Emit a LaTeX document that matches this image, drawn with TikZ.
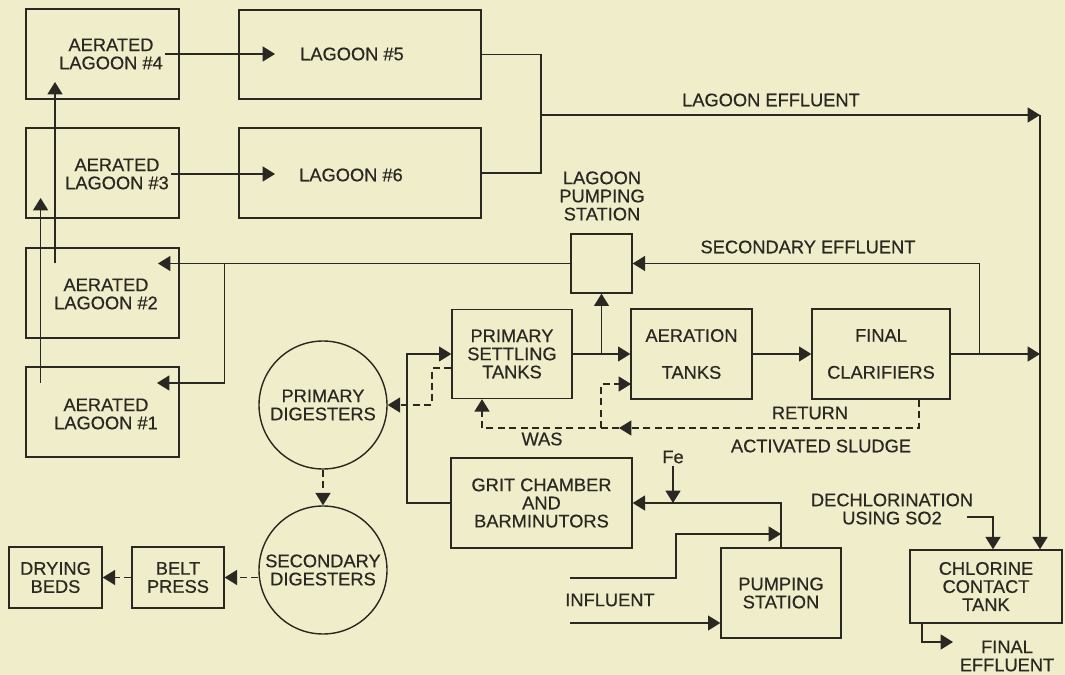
\documentclass[tikz,border=0pt]{standalone}
\usepackage{fontspec}
\setmainfont{Liberation Sans}[FakeBold=0.5]
\usetikzlibrary{arrows.meta,calc}

\definecolor{carta}{RGB}{240,237,202}
\definecolor{inchiostro}{RGB}{42,40,34}

\begin{document}
\begin{tikzpicture}[x=0.02cm, y=-0.02cm,
    >={Triangle[length=7pt,width=8.5pt]},
    line width=0.8pt, color=inchiostro,
    font=\fontsize{10.4}{10.3}\selectfont,
    box/.style 2 args={draw, rectangle, inner sep=0pt, minimum width=#1*\pxu, minimum height=#2*\pxu, align=center},
    vasca/.style={draw, circle, inner sep=0pt, minimum size=128*\pxu, align=center},
    testo/.style={align=center, inner sep=1pt},
    fango/.style={dash pattern=on 4pt off 2.5pt}]

        % Unita' di misura (1 px del disegno)
        \def\pxu{0.02cm}

        % Sfondo e cornice
        \fill[carta] (0,0) rectangle (1065,675);
        \useasboundingbox (0,0) rectangle (1065,675);

        % ----------------------------------------------------
        % 1. Lagune aerate e lagune 5, 6
        % ----------------------------------------------------
        \node[box={153}{90}] (al4) at (102.5,54) {};
        \node[box={153}{90}] (al3) at (102.5,173) {};
        \node[box={153}{90}] (al2) at (102.5,293) {};
        \node[box={153}{90}] (al1) at (102.5,412) {};
        \node[testo] (al4t) at (111,54) {AERATED\\LAGOON \#4};
        \node[testo] (al3t) at (117,174) {AERATED\\LAGOON \#3};
        \node[testo] (al2t) at (106,294) {AERATED\\LAGOON \#2};
        \node[testo] (al1t) at (106,414) {AERATED\\LAGOON \#1};

        \node[box={242}{89}] (lag5) at (360,54.5) {};
        \node[box={242}{90}] (lag6) at (360,173) {};
        \node[testo] (lag5t) at (352,54) {LAGOON \#5};
        \node[testo] (lag6t) at (351,175) {LAGOON \#6};

        \coordinate (l5in) at (275,54);
        \coordinate (l6in) at (275,174);
        \draw[->] (al4t.east) -- (al4t.east -| l5in);
        \draw[->] (al3t.east) -- (al3t.east -| l6in);

        % risalita tra le lagune aerate
        \coordinate (s4) at (55,263.5);
        \coordinate (a4in) at (55,82);
        \coordinate (s3) at (40.6,383);
        \coordinate (a3in) at (40.6,198);
        \draw[->] (s4) -- (a4in);
        \draw[->] (s3) -- (a3in);

        % effluente delle lagune
        \coordinate (nodo) at (541,115);
        \coordinate (angolo) at (1040,115);
        \draw (lag5.east) -| (nodo) |- (lag6.east);
        \draw[->] (nodo) -- (angolo);
        \node[testo] (let) at (771,100) {LAGOON EFFLUENT};

        % ----------------------------------------------------
        % 2. Stazione di pompaggio lagune
        % ----------------------------------------------------
        \node[box={61}{59}] (lps) at (601.5,263.5) {};
        \node[testo] (lpst) at (602,196) {LAGOON\\PUMPING\\STATION};

        \coordinate (a2in) at (158,263.5);
        \coordinate (a1in) at (157,383);
        \coordinate (dir) at (224.5,263.5);
        \draw[->] (lps.west) -- (a2in);
        \draw[->] (dir) |- (a1in);

        % ----------------------------------------------------
        % 3. Linea principale
        % ----------------------------------------------------
        \node[box={120}{89}] (pst) at (512,354) {PRIMARY\\SETTLING\\TANKS};
        \node[box={121}{90}] (aer) at (691.5,354) {AERATION\\[10.7pt]TANKS};
        \node[box={138}{90}] (fcl) at (881,354) {FINAL\\[10.7pt]CLARIFIERS};

        \coordinate (bivio) at ($(pst.east)!0.5!(aer.west)$);
        \draw[->] (pst.east) -- (aer.west);
        \draw[->] (bivio) -- (lps.south);
        \draw[->] (aer.east) -- (fcl.west);
        \draw[->] (fcl.east) -- (fcl.east -| angolo);

        % effluente secondario
        \coordinate (se) at (979.5,354);
        \draw[->] (se) |- (lps.east);
        \node[testo] (set) at (808,247) {SECONDARY EFFLUENT};

        % fanghi di ricircolo e di supero
        \coordinate (rit) at (919,428);
        \coordinate (ritfr) at (619,428);
        \coordinate (ra) at (601,428);
        \coordinate (aerin) at (631,384);
        \coordinate (was) at (482,428);
        \draw[fango,->] (rit |- fcl.south) -- (rit) -- (ritfr);
        \draw[fango,->] (ritfr) -- (was) -- (was |- pst.south);
        \draw[fango,->] (ra) |- (aerin);
        \node[testo] (rett) at (810,413) {RETURN};
        \node[testo] (ast) at (821,446) {ACTIVATED SLUDGE};
        \node[testo] (wast) at (542,439) {WAS};

        % ----------------------------------------------------
        % 4. Digestori e disidratazione
        % ----------------------------------------------------
        \node[vasca] (pdig) at (323,405) {PRIMARY\\DIGESTERS};
        \node[vasca] (sdig) at (323,570) {SECONDARY\\DIGESTERS};
        \node[box={92}{61}] (belt) at (178,577.5) {BELT\\PRESS};
        \node[box={93}{61}] (dry) at (55.5,577.5) {DRYING\\BEDS};

        \coordinate (pd1) at (432,368);
        \draw[fango,->] (pst.west |- pd1) -- (pd1) |- (pdig.east);
        \draw[fango,->] (pdig) -- (sdig);
        \draw[fango,->] (sdig.west |- belt.east) -- (belt.east);
        \draw[fango,->] (belt.west) -- (dry.east);

        % ----------------------------------------------------
        % 5. Ingresso impianto
        % ----------------------------------------------------
        \node[box={181}{90}] (grit) at (541.5,503) {GRIT CHAMBER\\AND\\BARMINUTORS};
        \node[box={120}{90}] (pump) at (781,593) {PUMPING\\STATION};

        \coordinate (g1) at (407,503);
        \draw[->] (grit.west) -- (g1) |- (pst.west);
        \draw[->] (pump.north) |- (grit.east);

        \node[testo] (fe) at (673,457) {Fe};
        \draw[->] (fe.south) -- (fe.south |- grit.east);

        \coordinate (inf1) at (570,578);
        \coordinate (inf2) at (676,534);
        \coordinate (inf3) at (570,623);
        \draw[->] (inf1) -| (inf2) -- (inf2 -| pump.north);
        \draw[->] (inf3) -- (inf3 -| pump.west);
        \node[testo] (inft) at (610,600) {INFLUENT};

        % ----------------------------------------------------
        % 6. Clorazione e scarico
        % ----------------------------------------------------
        \node[box={152}{73}] (cct) at (986,586.5) {CHLORINE\\CONTACT\\TANK};
        \draw[->] (angolo) -- (angolo |- cct.north);

        \node[testo] (dclt) at (892,509) {DECHLORINATION\\USING SO2};
        \coordinate (dc1) at (967,517);
        \coordinate (dc2) at (993,517);
        \draw[->] (dc1) -- (dc2) -- (dc2 |- cct.north);

        \coordinate (fe1) at (922,642);
        \coordinate (fe2) at (953,642);
        \draw[->] (fe1 |- cct.south) -- (fe1) -- (fe2);
        \node[testo] (fet) at (1007,656) {FINAL\\EFFLUENT};

    \end{tikzpicture}
\end{document}
